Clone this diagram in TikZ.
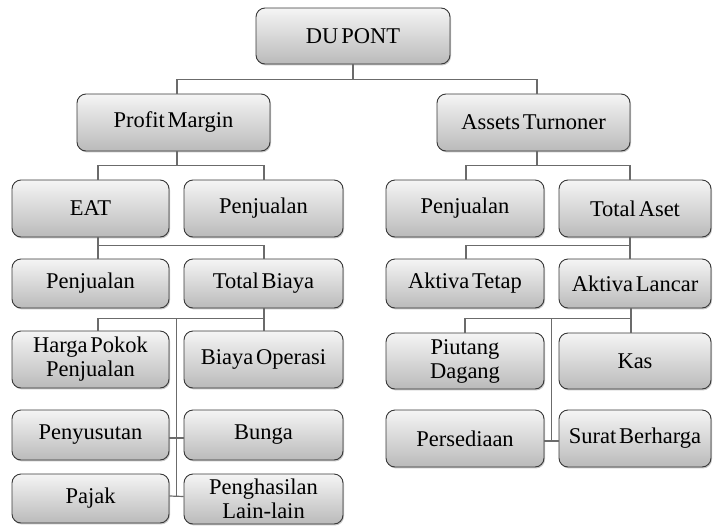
\documentclass[tikz,border=0pt]{standalone}
\usepackage{fontspec}
\setmainfont{Liberation Serif}
\newfontfamily\boxfont{Liberation Serif}[WordSpace=0.5]
\usetikzlibrary{calc,shadows}

\tikzset{
  box/.style={draw=black!78, line width=0.9pt, rounded corners=9pt,
    top color=black!4, bottom color=black!27, shading angle=0,
    general shadow={fill=black, opacity=0.22, shadow xshift=1pt, shadow yshift=-1.4pt},
    align=center, inner sep=2pt, text=black,
    font=\boxfont\fontsize{22.5}{24}\selectfont},
  link/.style={draw=black!58, line width=1.2pt},
}

\begin{document}
\begin{tikzpicture}[x=1pt, y=-1pt]
  \useasboundingbox (0,0) rectangle (713,528);

  % top of the tree
  \node[box, minimum width=194pt, minimum height=56pt] (dupont) at (353,36) {DU PONT};
  \node[box, minimum width=193pt, minimum height=57pt] (pm) at (173.5,122.5) {Profit Margin};
  \node[box, minimum width=193pt, minimum height=57pt] (at) at (533.5,122.5) {Assets Turnoner};

  % second level
  \node[box, minimum width=157pt, minimum height=57pt] (eat) at (90.5,208.5) {EAT};
  \node[box, minimum width=159pt, minimum height=57pt] (pjb) at (263.5,208.5) {Penjualan};
  \node[box, minimum width=158pt, minimum height=57pt] (pjc) at (465,208.5) {Penjualan};
  \node[box, minimum width=152pt, minimum height=57pt] (ta) at (635,208.5) {Total Aset};

  % third level
  \node[box, minimum width=157pt, minimum height=49pt] (pja) at (90.5,283.5) {Penjualan};
  \node[box, minimum width=159pt, minimum height=49pt] (tb) at (263.5,283.5) {Total Biaya};
  \node[box, minimum width=158pt, minimum height=49pt] (akt) at (465,283.5) {Aktiva Tetap};
  \node[box, minimum width=152pt, minimum height=49pt] (akl) at (635,283.5) {Aktiva Lancar};

  % cost items
  \node[box, minimum width=157pt, minimum height=57pt] (hpp) at (90.5,359.5) {Harga Pokok\\Penjualan};
  \node[box, minimum width=159pt, minimum height=57pt] (bo) at (263.5,359.5) {Biaya Operasi};
  \node[box, minimum width=157pt, minimum height=50pt] (peny) at (90.5,435) {Penyusutan};
  \node[box, minimum width=159pt, minimum height=50pt] (bunga) at (263.5,435) {Bunga};
  \node[box, minimum width=157pt, minimum height=49pt] (pajak) at (90.5,498.5) {Pajak};
  \node[box, minimum width=159pt, minimum height=50pt] (phl) at (263.5,499) {Penghasilan\\Lain-lain};

  % current assets items
  \node[box, minimum width=158pt, minimum height=56pt] (pd) at (465,361) {Piutang\\Dagang};
  \node[box, minimum width=152pt, minimum height=56pt] (kas) at (635,361) {Kas};
  \node[box, minimum width=158pt, minimum height=57pt] (pers) at (465,438.5) {Persediaan};
  \node[box, minimum width=152pt, minimum height=57pt] (sb) at (635,438.5) {Surat Berharga};

  % connectors
  \draw[link] (dupont.south) -- ++(0,15) coordinate (b1);
  \draw[link] ([xshift=3.5pt]pm.north) |- (b1) -| ([xshift=3.5pt]at.north);

  \draw[link] ([xshift=3.5pt]pm.south) -- ++(0,14) coordinate (b2l);
  \draw[link] ([xshift=7.5pt]eat.north) |- (b2l) -| ([xshift=0.5pt]pjb.north);
  \draw[link] ([xshift=3.5pt]at.south) -- ++(0,14) coordinate (b2r);
  \draw[link] ([xshift=1pt]pjc.north) |- (b2r) -| ([xshift=-5pt]ta.north);

  \draw[link] ([xshift=7.5pt]eat.south) -- ++(0,8) coordinate (b3l);
  \draw[link] ([xshift=7.5pt]pja.north) -- (b3l) -| ([xshift=0.5pt]tb.north);
  \draw[link] ([xshift=-5pt]ta.south) -- ++(0,8) coordinate (b3r);
  \draw[link] ([xshift=-5pt]akl.north) -- (b3r) -| ([xshift=1pt]akt.north);

  \draw[link] ([xshift=0.5pt]tb.south) -- ++(0,10) coordinate (b4l);
  \draw[link] ([xshift=7.5pt]hpp.north) |- (b4l) -- ([xshift=0.5pt]bo.north);
  \coordinate (jl) at ($(pajak.east)!0.5!(phl.west)$);
  \draw[link] ([yshift=2.5pt]pajak.east) -- ([yshift=2.5pt]phl.west);
  \draw[link] ([yshift=-3pt]peny.east) -- ([yshift=-3pt]bunga.west);
  \draw[link] ([yshift=2.5pt]jl) -- (jl |- b4l);

  \draw[link] ([xshift=-4pt]akl.south) -- ++(0,10) coordinate (b4r);
  \draw[link] (pd.north) |- (b4r) -- ([xshift=-4pt]kas.north);
  \coordinate (jr) at ($(pers.east)!0.5!(sb.west)$);
  \draw[link] ([yshift=-2.5pt]pers.east) -- ([yshift=-2.5pt]sb.west);
  \draw[link] ([yshift=-2.5pt]jr) -- (jr |- b4r);
\end{tikzpicture}
\end{document}
